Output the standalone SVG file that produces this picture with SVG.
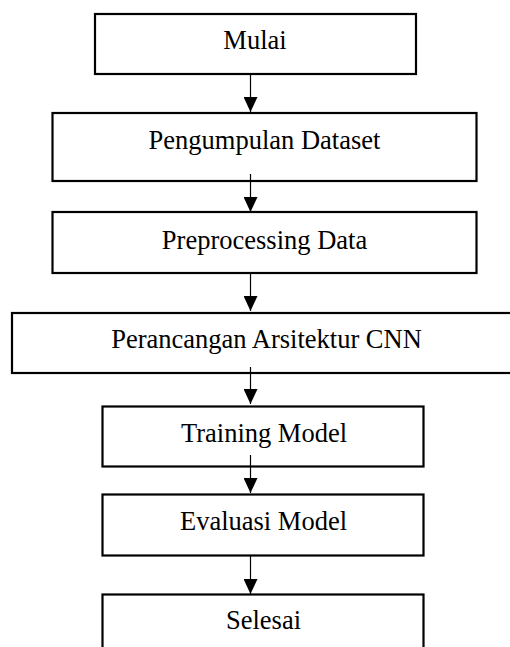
<svg xmlns="http://www.w3.org/2000/svg" width="510" height="647" viewBox="0 0 510 647">
<style>
.box{fill:#fff;stroke:#000;stroke-width:2.2}
.lbl{font-family:"Liberation Serif","Times New Roman",serif;font-size:26.5px;fill:#000;text-anchor:middle}
.con{stroke:#000;stroke-width:1.2;fill:none;marker-end:url(#ah)}
</style>
<defs>
<marker id="ah" viewBox="0 0 15 14" refX="15" refY="7" markerWidth="15" markerHeight="14" markerUnits="userSpaceOnUse" orient="auto">
<path d="M0,0 L15,7 L0,14 z" fill="#000"/>
</marker>
</defs>
<rect width="510" height="647" fill="#fff"/>
<g id="n1"><rect class="box" x="95" y="14" width="321" height="60"/><text class="lbl" x="255" y="49.3">Mulai</text></g>
<g id="n2"><rect class="box" x="52.5" y="113" width="424" height="68"/><text class="lbl" x="264.5" y="149.3">Pengumpulan Dataset</text></g>
<g id="n3"><rect class="box" x="52.5" y="212" width="424" height="61"/><text class="lbl" x="264.5" y="249.3">Preprocessing Data</text></g>
<g id="n4"><rect class="box" x="12" y="313" width="510" height="60"/><text class="lbl" x="266.5" y="348.3">Perancangan Arsitektur CNN</text></g>
<g id="n5"><rect class="box" x="102.5" y="406.5" width="321" height="60"/><text class="lbl" x="264" y="441.7">Training Model</text></g>
<g id="n6"><rect class="box" x="102.5" y="494.5" width="321" height="61"/><text class="lbl" x="263.5" y="530">Evaluasi Model</text></g>
<g id="n7"><rect class="box" x="102.5" y="594.5" width="321" height="60"/><text class="lbl" x="263.5" y="629.3">Selesai</text></g>
<g id="connectors">
<line class="con" x1="250.5" y1="74" x2="250.5" y2="112"/>
<line class="con" x1="250.5" y1="174" x2="250.5" y2="212"/>
<line class="con" x1="250.5" y1="273" x2="250.5" y2="311"/>
<line class="con" x1="250.5" y1="367" x2="250.5" y2="404"/>
<line class="con" x1="250.5" y1="455" x2="250.5" y2="493"/>
<line class="con" x1="250.5" y1="556" x2="250.5" y2="594"/>
</g>
</svg>
